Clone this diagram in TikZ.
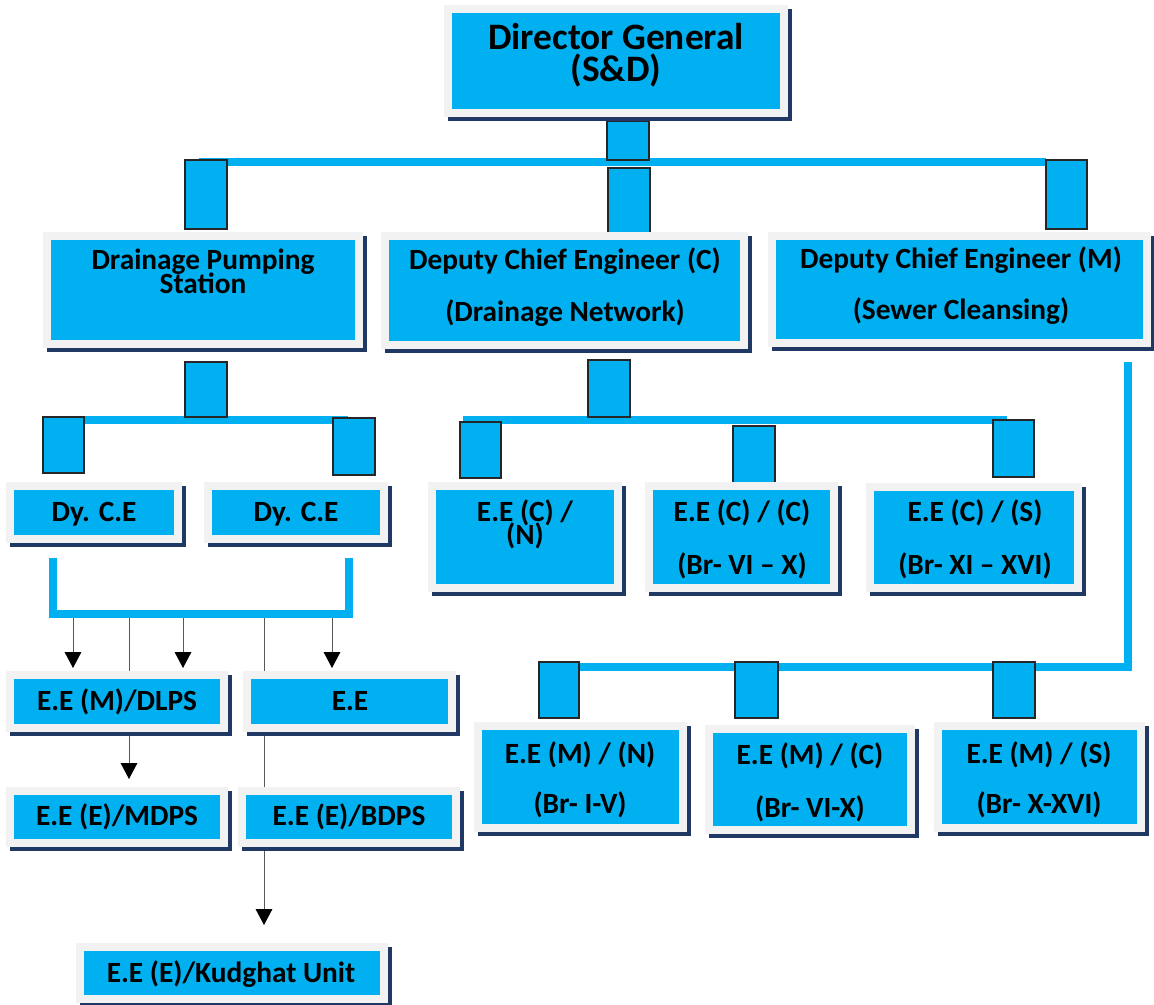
\documentclass[tikz,border=0pt]{standalone}
\usepackage{fontspec}
\setmainfont{Carlito}
\usetikzlibrary{arrows.meta,fit,shadows,backgrounds}
\definecolor{boxcyan}{HTML}{00B0F0}
\definecolor{framegray}{HTML}{F2F2F2}
\definecolor{shadownavy}{HTML}{1F3864}
\tikzset{
  orgbox/.style={fill=boxcyan, draw=framegray, line width=6pt, inner sep=0pt,
    general shadow={draw=shadownavy, fill=shadownavy, line width=6pt, shadow xshift=3pt, shadow yshift=-3pt}},
  txt/.style={anchor=base, inner sep=0pt, font=\bfseries\fontsize{22}{24}\selectfont},
  bigtxt/.style={txt, font=\bfseries\fontsize{28}{30}\selectfont},
  bar/.style={draw=boxcyan, line width=6pt},
  link/.style={fill=boxcyan, draw=black!85, line width=0.8pt},
  arr/.style={draw=black!65, line width=0.75pt, -{Triangle[width=12.5pt,length=12pt,color=black]}}
}
\begin{document}
\begin{tikzpicture}[x=0.75pt, y=-0.75pt]
  \useasboundingbox (0,0) rectangle (1154,1005);

  % top level links
  \draw[bar] (199,162.5) -- (1046,162.5);
  \draw[link] (607,121) rectangle (649,160);
  \draw[link] (608,168) rectangle (650,237);
  \draw[link] (185,160) rectangle (227,229);
  \draw[link] (1046,160) rectangle (1087,229);

  % pumping station links
  \draw[bar] (84,420.5) -- (348,420.5);
  \draw[link] (185,362) rectangle (227,417);
  \draw[link] (43,417) rectangle (84,473);
  \draw[link] (333,418) rectangle (375,475);

  % drainage network links
  \draw[bar] (463,420) -- (1007,420);
  \draw[link] (588,360) rectangle (630,417);
  \draw[link] (460,422) rectangle (501,478);
  \draw[link] (733,426) rectangle (775,483);
  \draw[link] (993,420) rectangle (1034,477);

  % sewer cleansing links
  \draw[bar] (1128,362) -- (1128,666.5) -- (579,666.5);
  \draw[link] (539,662) rectangle (579,718);
  \draw[link] (735,662) rectangle (778,718);
  \draw[link] (993,662) rectangle (1035,718);

  % bracket under Dy. C.E
  \draw[bar] (53,558) -- (53,614) -- (349,614) -- (349,558);
  \coordinate (br1) at (73,614);
  \coordinate (br2) at (129,614);
  \coordinate (br3) at (183,614);
  \coordinate (br4) at (264,614);
  \coordinate (br5) at (332,614);

  % boxes
  \node[orgbox, fit={(448,9) (784,113)}] (dg) {};
  \node[orgbox, fit={(47,236) (359,344)}] (dps) {};
  \node[orgbox, fit={(385,236) (744,345)}] (dcc) {};
  \node[orgbox, fit={(772,236) (1147,343)}] (dcm) {};
  \node[orgbox, fit={(10,486) (178,539)}] (dy1) {};
  \node[orgbox, fit={(208,486) (384,539)}] (dy2) {};
  \node[orgbox, fit={(432,486) (618,588)}] (ecn) {};
  \node[orgbox, fit={(649,486) (834,588)}] (ecc) {};
  \node[orgbox, fit={(870,487) (1078,588)}] (ecs) {};
  \node[orgbox, fit={(10,675) (224,728)}] (dlps) {};
  \node[orgbox, fit={(247,675) (452,728)}] (ee) {};
  \node[orgbox, fit={(10,791) (224,843)}] (mdps) {};
  \node[orgbox, fit={(242,791) (456,843)}] (bdps) {};
  \node[orgbox, fit={(80,947) (384,999)}] (kud) {};
  \node[orgbox, fit={(478,726) (683,828)}] (emn) {};
  \node[orgbox, fit={(709,729) (911,830)}] (emc) {};
  \node[orgbox, fit={(938,726) (1141,828)}] (ems) {};

  % texts
  \node[bigtxt] (dg-a) at (616,50) {Director General};
  \node[bigtxt] (dg-b) at (616,82) {(S\&D)};
  \node[txt] (dps-a) at (203,270) {Drainage Pumping};
  \node[txt] (dps-b) at (203,294) {Station};
  \node[txt] (dcc-a) at (565,270) {Deputy Chief Engineer (C)};
  \node[txt] (dcc-b) at (565,322) {(Drainage Network)};
  \node[txt] (dcm-a) at (961,269) {Deputy Chief Engineer (M)};
  \node[txt] (dcm-b) at (961,320) {(Sewer Cleansing)};
  \node[txt] (dy1-a) at (94,522) {Dy. C.E};
  \node[txt] (dy2-a) at (296,522) {Dy. C.E};
  \node[txt] (ecn-a) at (525,522) {E.E (C) /};
  \node[txt] (ecn-b) at (525,545) {(N)};
  \node[txt] (ecc-a) at (742,522) {E.E (C) / (C)};
  \node[txt] (ecc-b) at (742,575) {(Br- VI -- X)};
  \node[txt] (ecs-a) at (975,522) {E.E (C) / (S)};
  \node[txt] (ecs-b) at (975,575) {(Br- XI -- XVI)};
  \node[txt] (dlps-a) at (117,710) {E.E (M)/DLPS};
  \node[txt] (ee-a) at (350,710) {E.E};
  \node[txt] (mdps-a) at (117,825) {E.E (E)/MDPS};
  \node[txt] (bdps-a) at (349,825) {E.E (E)/BDPS};
  \node[txt] (kud-a) at (231,982) {E.E (E)/Kudghat Unit};
  \node[txt] (emn-a) at (580,763) {E.E (M) / (N)};
  \node[txt] (emn-b) at (580,813) {(Br- I-V)};
  \node[txt] (emc-a) at (810,764) {E.E (M) / (C)};
  \node[txt] (emc-b) at (810,817) {(Br- VI-X)};
  \node[txt] (ems-a) at (1039,763) {E.E (M) / (S)};
  \node[txt] (ems-b) at (1039,813) {(Br- X-XVI)};

  % arrows behind the boxes
  \begin{pgfonlayer}{background}
    \fill[white] (0,0) rectangle (1154,1005);
    \draw[arr, shorten >=2.25pt] (br1) -- (br1 |- dlps.north);
    \draw[arr, shorten >=6pt] (br2) -- (br2 |- mdps.north);
    \draw[arr, shorten >=2.25pt] (br3) -- (br3 |- dlps.north);
    \draw[arr, shorten >=13.5pt] (br4) -- (br4 |- kud.north);
    \draw[arr, shorten >=2.25pt] (br5) -- (br5 |- ee.north);
  \end{pgfonlayer}
\end{tikzpicture}
\end{document}
